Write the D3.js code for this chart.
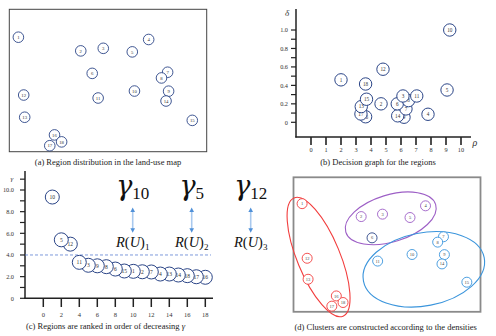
<!DOCTYPE html>
<html>
<head>
<meta charset="utf-8">
<script src="https://cdn.jsdelivr.net/npm/d3@7/dist/d3.min.js"></script>
<style>
  body { margin: 0; background: #fff; }
  svg { display: block; }
  text { font-family: "Liberation Serif", "DejaVu Serif", serif; }
</style>
</head>
<body>
<div id="chart"></div>
<script>
// regions 1..18, position in the land-use map (0..100 both ways)
let regionIds = d3.range(1, 19);
let mapX = [4.6, 36.2, 47.6, 70.6, 62.3, 42.0, 80.2, 77.1, 80.7, 63.4, 45.0, 7.3, 7.8, 79.4, 92.7, 22.9, 20.5, 26.5];
let mapY = [19.6, 29.2, 27.4, 21.2, 29.9, 45.0, 44.2, 48.2, 57.5, 57.4, 62.3, 60.2, 75.8, 64.4, 78.0, 88.2, 95.8, 93.1];

// decision graph
let rho = [2.0, 4.67, 6.13, 7.8, 9.07, 5.75, 6.33, 6.5, 6.2, 9.25, 7.05, 4.8, 3.35, 5.78, 3.7, 3.64, 3.33, 3.64];
let delta = [0.46, 0.20, 0.285, 0.087, 0.35, 0.20, 0.145, 0.235, 0.055, 1.0, 0.285, 0.575, 0.17, 0.07, 0.25, 0.06, 0.09, 0.415];

// ranked gamma
let rankOrder = [10, 5, 12, 11, 3, 9, 8, 6, 15, 1, 2, 7, 4, 13, 14, 18, 17, 16];
let gammaValues = [9.35, 5.4, 5.0, 3.32, 3.05, 3.0, 2.92, 2.7, 2.52, 2.49, 2.45, 2.43, 2.24, 2.24, 2.15, 2.09, 1.99, 1.94];
let gammaCut = 4.0;

// clusters (-1 = not coloured)
let clusterOf = [0, 1, 1, 1, 1, -1, 2, 2, 2, 2, 2, 0, 0, 2, 2, 0, 0, 0];
let clusterCenters = [10, 5, 12];
let clusterColors = ["#f23d3d", "#9d5fc6", "#3b95dc"];
let nodeColor = "#2b4587";

let rhoTicks = d3.range(0, 11);
let deltaTicks = d3.range(0, 11).map(d => d / 10);
let deltaLabels = [0, 0.2, 0.4, 0.6, 0.8, 1.0];
let rankTicks = d3.range(0, 19, 2);
let gammaTicks = d3.range(0, 12);
let gammaLabels = [0, 2, 4, 6, 8, 10];

let captions = [
  "(a) Region distribution in the land-use map",
  "(b) Decision graph for the regions",
  "(c) Regions are ranked in order of decreasing ",
  "(d) Clusters are constructed according to the densities"
];

let regions = regionIds.map((id, i) => ({
  id: id, u: mapX[i], v: mapY[i], rho: rho[i], delta: delta[i], cluster: clusterOf[i]
}));

let width = 496, height = 336;
let svg = d3.select("#chart").append("svg")
  .attr("width", width).attr("height", height);

// ---------- (a) map ----------
let xa = d3.scaleLinear().domain([0, 100]).range([9.3, 206.7]);
let ya = d3.scaleLinear().domain([0, 100]).range([9.3, 151.7]);
let ga = svg.append("g");
ga.append("rect")
  .attr("x", xa(0)).attr("y", ya(0))
  .attr("width", xa(100) - xa(0)).attr("height", ya(100) - ya(0))
  .attr("fill", "none").attr("stroke", "#444").attr("stroke-width", 1);

let na = ga.selectAll(".na").data(regions).enter().append("g")
  .attr("transform", d => `translate(${xa(d.u)},${ya(d.v)})`);
na.append("circle").attr("r", 5.3).attr("fill", "#fff")
  .attr("stroke", nodeColor).attr("stroke-width", 0.9);
na.append("text").text(d => d.id)
  .attr("text-anchor", "middle").attr("dy", "0.35em")
  .attr("font-size", 4.8).attr("fill", "#333");

// ---------- (b) decision graph ----------
let xb = d3.scaleLinear().domain([0, 10]).range([311, 461]);
let yb = d3.scaleLinear().domain([0, 1]).range([122.3, 30]);
let gb = svg.append("g");
gb.append("line").attr("x1", 296).attr("x2", 296).attr("y1", 9).attr("y2", 137.5)
  .attr("stroke", "#222").attr("stroke-width", 1.5);
gb.append("line").attr("x1", 295.3).attr("x2", 471).attr("y1", 137).attr("y2", 137)
  .attr("stroke", "#222").attr("stroke-width", 1.5);
gb.selectAll(".ytk").data(deltaTicks).enter().append("line")
  .attr("x1", 291).attr("x2", 296)
  .attr("y1", d => yb(d)).attr("y2", d => yb(d))
  .attr("stroke", "#222").attr("stroke-width", 1.2);
gb.selectAll(".ylb").data(deltaLabels).enter().append("text")
  .attr("x", 288).attr("y", d => yb(d)).attr("dy", "0.35em")
  .attr("text-anchor", "end").attr("font-size", 6.3).attr("fill", "#333")
  .text(d => d === 0 ? "0" : d3.format(".1f")(d));
gb.selectAll(".xtk").data(rhoTicks).enter().append("line")
  .attr("x1", d => xb(d)).attr("x2", d => xb(d))
  .attr("y1", 137).attr("y2", 145)
  .attr("stroke", "#222").attr("stroke-width", 1.6);
gb.selectAll(".xlb").data(rhoTicks).enter().append("text")
  .attr("x", d => xb(d)).attr("y", 152)
  .attr("text-anchor", "middle").attr("font-size", 6.3).attr("fill", "#333")
  .text(d => d);
gb.append("text").attr("x", 287).attr("y", 16).attr("text-anchor", "middle")
  .attr("font-size", 9).attr("font-style", "italic").attr("fill", "#333").text("δ");
gb.append("text").attr("x", 475).attr("y", 146).attr("text-anchor", "middle")
  .attr("font-size", 10).attr("font-style", "italic").attr("fill", "#333").text("ρ");

let nb = gb.selectAll(".nb").data(regions.slice().sort((p, q) => p.delta - q.delta))
  .enter().append("g")
  .attr("transform", d => `translate(${xb(d.rho)},${yb(d.delta)})`);
nb.append("circle").attr("r", 6.2).attr("fill", "#fff")
  .attr("stroke", nodeColor).attr("stroke-width", 1);
nb.append("text").text(d => d.id)
  .attr("text-anchor", "middle").attr("dy", "0.35em")
  .attr("font-size", 5.2).attr("fill", "#333");

// ---------- (c) ranked gamma ----------
let xc = d3.scaleLinear().domain([0, 18]).range([43.3, 205.3]);
let yc = d3.scaleLinear().domain([0, 10]).range([298.3, 190]);
let gc = svg.append("g");
gc.append("line").attr("x1", 25).attr("x2", 25).attr("y1", 171).attr("y2", 299)
  .attr("stroke", "#222").attr("stroke-width", 1.5);
gc.append("line").attr("x1", 24.3).attr("x2", 213).attr("y1", 298.3).attr("y2", 298.3)
  .attr("stroke", "#222").attr("stroke-width", 1.5);
gc.selectAll(".ytk").data(gammaTicks).enter().append("line")
  .attr("x1", 20).attr("x2", 25)
  .attr("y1", d => yc(d)).attr("y2", d => yc(d))
  .attr("stroke", "#222").attr("stroke-width", 1.2);
gc.selectAll(".ylb").data(gammaLabels).enter().append("text")
  .attr("x", 14).attr("y", d => yc(d)).attr("dy", "0.35em")
  .attr("text-anchor", "end").attr("font-size", 6.3).attr("fill", "#333")
  .text(d => d === 0 ? "0" : d3.format(".1f")(d));
gc.selectAll(".xtk").data(rankTicks).enter().append("line")
  .attr("x1", d => xc(d)).attr("x2", d => xc(d))
  .attr("y1", 298.3).attr("y2", 307)
  .attr("stroke", "#222").attr("stroke-width", 1.5);
gc.selectAll(".xlb").data(rankTicks).enter().append("text")
  .attr("x", d => xc(d)).attr("y", 316.5)
  .attr("text-anchor", "middle").attr("font-size", 6.5).attr("fill", "#333")
  .text(d => d);
gc.append("text").attr("x", 12).attr("y", 181).attr("text-anchor", "middle")
  .attr("font-size", 7).attr("font-style", "italic").attr("fill", "#333").text("γ");

gc.append("line").attr("x1", 25).attr("x2", 211)
  .attr("y1", yc(gammaCut)).attr("y2", yc(gammaCut))
  .attr("stroke", "#5a7fd2").attr("stroke-width", 0.8).attr("stroke-dasharray", "3,2");

let ranked = rankOrder.map((id, i) => ({ id: id, rank: i + 1, gamma: gammaValues[i] }));
// first ranked sits on top
let nc = gc.selectAll(".nc").data(ranked.slice().reverse()).enter().append("g")
  .attr("transform", d => `translate(${xc(d.rank)},${yc(d.gamma)})`);
nc.append("circle").attr("r", 7).attr("fill", "#fff")
  .attr("stroke", nodeColor).attr("stroke-width", 1);
nc.append("text").text(d => d.id)
  .attr("text-anchor", "middle").attr("dy", "0.35em")
  .attr("font-size", 5.6).attr("fill", "#333");

// cluster centre annotations
let xn = d3.scaleLinear().domain([0, 1]).range([132.7, 191.7]);
let ann = svg.selectAll(".ann").data(clusterCenters).enter().append("g")
  .attr("transform", (d, i) => `translate(${xn(i)},0)`);
let gt = ann.append("text").attr("text-anchor", "middle").attr("y", 195).attr("fill", "#111");
gt.append("tspan").attr("font-size", 27).attr("font-style", "italic")
  .attr("font-family", "'DejaVu Serif', serif").text("γ");
gt.append("tspan").attr("font-size", 17).attr("dy", 4).text(d => d);

let rt = ann.append("text").attr("text-anchor", "middle").attr("y", 247.3).attr("fill", "#111")
  .attr("font-size", 14.5);
rt.append("tspan").attr("font-style", "italic").text("R");
rt.append("tspan").text("(");
rt.append("tspan").attr("font-style", "italic").text("U");
rt.append("tspan").text(")");
rt.append("tspan").attr("font-size", 9).attr("dy", 3).text((d, i) => i + 1);

ann.append("line").attr("x1", 0).attr("x2", 0).attr("y1", 211).attr("y2", 229)
  .attr("stroke", "#a9c9ee").attr("stroke-width", 1.6);
ann.append("path").attr("d", "M0,207.5L-2.3,212L2.3,212Z").attr("fill", "#4f90d8");
ann.append("path").attr("d", "M0,232.8L-2.3,228.3L2.3,228.3Z").attr("fill", "#4f90d8");

// ---------- (d) clusters ----------
let xd = d3.scaleLinear().domain([0, 100]).range([293.5, 480.5]);
let yd = d3.scaleLinear().domain([0, 100]).range([177.3, 311.8]);
let gd = svg.append("g");
gd.append("rect")
  .attr("x", xd(0)).attr("y", yd(0))
  .attr("width", xd(100) - xd(0)).attr("height", yd(100) - yd(0))
  .attr("fill", "none").attr("stroke", "#8a8a8a").attr("stroke-width", 1.8);

// hand-drawn cluster outlines: centre in map units, semi-axes in px
let hulls = [
  { cluster: 0, u: 13.4, v: 59.3, rx: 21.4, ry: 64, rot: -22.5 },
  { cluster: 1, u: 52.0, v: 30.5, rx: 47, ry: 23.5, rot: -17 },
  { cluster: 2, u: 69.7, v: 68.4, rx: 61.5, ry: 36.5, rot: -11 }
];
gd.selectAll(".hull").data(hulls).enter().append("ellipse")
  .attr("transform", d => `translate(${xd(d.u)},${yd(d.v)}) rotate(${d.rot})`)
  .attr("rx", d => d.rx).attr("ry", d => d.ry)
  .attr("fill", "none").attr("stroke", d => clusterColors[d.cluster]).attr("stroke-width", 1.1);

let nd = gd.selectAll(".nd").data(regions).enter().append("g")
  .attr("transform", d => `translate(${xd(d.u)},${yd(d.v)})`);
nd.append("circle").attr("r", 5).attr("fill", "#fff")
  .attr("stroke", d => d.cluster < 0 ? nodeColor : clusterColors[d.cluster])
  .attr("stroke-width", 0.9);
nd.append("text").text(d => d.id)
  .attr("text-anchor", "middle").attr("dy", "0.35em")
  .attr("font-size", 4.5).attr("fill", "#444");

// ---------- captions ----------
let capPos = [[108, 165], [378, 165], [105.5, 329], [385.7, 329.5]];
let caps = svg.selectAll(".cap").data(captions).enter().append("text")
  .attr("x", (d, i) => capPos[i][0]).attr("y", (d, i) => capPos[i][1])
  .attr("text-anchor", "middle").attr("font-size", 8.5).attr("fill", "#222");
caps.append("tspan").text(d => d);
caps.filter((d, i) => i === 2).append("tspan").attr("font-style", "italic").text("γ");
</script>
</body>
</html>
